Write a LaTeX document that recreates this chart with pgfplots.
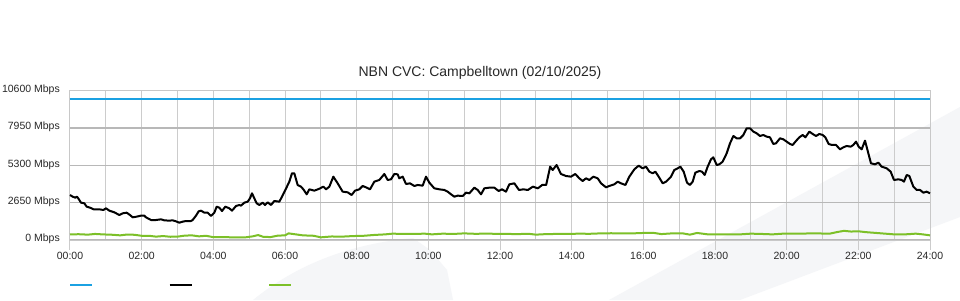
\documentclass[border=0pt]{standalone}
\usepackage{pgfplots}
\pgfplotsset{compat=1.18}
\usepackage{fontspec}
\setmainfont{Liberation Sans}
\definecolor{cblue}{RGB}{27,161,226}
\definecolor{cgreen}{RGB}{124,192,40}
\definecolor{wm}{RGB}{245,246,248}
\definecolor{xgrid}{RGB}{204,204,204}
\definecolor{ygrid}{RGB}{184,184,184}
\definecolor{frame}{RGB}{200,200,200}
\definecolor{txt}{RGB}{40,40,40}
\begin{document}
\begin{tikzpicture}
\useasboundingbox[fill=white] (0,0) rectangle (960pt,300pt);
\fill[wm] (609pt,0pt) -- (960pt,193pt) -- (960pt,83pt) -- (740pt,0pt) -- cycle;
\fill[wm] (253pt,0pt) .. controls (290pt,30pt) and (340pt,55pt) .. (413pt,62pt) -- (430pt,50pt) -- (447pt,30pt) -- (453pt,0pt) -- cycle;
\begin{axis}[
  at={(70pt,60pt)}, anchor=south west,
  scale only axis, width=860pt, height=149.3pt,
  xmin=0, xmax=24, ymin=0, ymax=10600,
  scaled y ticks=false, scaled x ticks=false,
  axis line style={draw=frame, line width=1pt},
  xtick={0,2,...,24},
  xticklabels={00:00,02:00,04:00,06:00,08:00,10:00,12:00,14:00,16:00,18:00,20:00,22:00,24:00},
  minor xtick={1,3,...,23},
  ytick={0,2650,5300,7950,10600},
  yticklabels={0 Mbps,2650 Mbps,5300 Mbps,7950 Mbps,10600 Mbps},
  /pgf/number format/assume math mode=true,
  xmajorgrids, xminorgrids, ymajorgrids,
  x grid style={draw=xgrid, line width=1pt},
  minor x grid style={draw=xgrid, line width=1pt},
  y grid style={draw=ygrid, line width=1.3pt},
  tick align=outside,
  major tick length=10pt, minor tick length=0pt,
  xtick style={draw=xgrid, line width=1pt},
  ytick style={draw=none},
  xtick pos=bottom, ytick pos=left,
  ticklabel style={font=\fontsize{10.5}{12}\selectfont, text=txt},
  xticklabel style={inner sep=0pt, yshift=-1.5pt},
  yticklabel style={inner sep=0pt, anchor=east, yshift=1pt},
  title={NBN CVC: Campbelltown (02/10/2025)},
  title style={font=\fontsize{14}{16}\selectfont, text=txt, at={(axis description cs:0.4767,1.0817)}, anchor=center, yshift=0pt, inner sep=0pt},
  legend style={at={(axis description cs:-0.00116,-0.3014)}, anchor=west, draw=none, fill=none,
    legend columns=3, inner sep=0pt, outer sep=0pt, row sep=0pt, column sep=0pt,
    nodes={inner sep=0pt}, /tikz/every even column/.append style={column sep=74.5pt}},
  legend image code/.code={\draw[#1] (0pt,0pt) -- (22pt,0pt);},
  clip=false,
]
\addplot[cblue, line width=2pt] coordinates {(0,10000) (24,10000)};
\addlegendentry{}
\addplot[black, line width=2pt, line join=round] coordinates {
(0,3195)(0.074,3077)(0.149,3006)(0.195,3077)(0.242,2911)(0.307,2651)(0.4,2604)(0.465,2367)(0.558,2296)(0.66,2178)(0.819,2178)(0.93,2130)(1.005,2249)(1.098,2083)(1.237,1965)(1.377,1775)(1.47,1894)(1.581,1941)(1.674,1775)(1.749,1610)(1.86,1657)(1.981,1728)(2.074,1728)(2.12,1610)(2.26,1420)(2.4,1420)(2.54,1468)(2.633,1397)(2.772,1373)(2.865,1397)(2.958,1326)(3.051,1231)(3.144,1302)(3.237,1349)(3.377,1349)(3.423,1420)(3.516,1728)(3.591,2036)(3.656,2083)(3.749,1941)(3.842,1941)(3.935,1704)(4.028,1941)(4.093,2367)(4.167,2296)(4.242,2059)(4.335,2367)(4.447,2249)(4.521,2083)(4.633,2414)(4.726,2485)(4.772,2438)(4.865,2651)(4.958,2722)(5.023,2959)(5.079,3314)(5.144,2959)(5.209,2604)(5.284,2485)(5.377,2651)(5.442,2485)(5.516,2675)(5.609,2485)(5.702,2769)(5.842,2722)(5.916,3077)(6.009,3551)(6.121,4142)(6.195,4734)(6.26,4734)(6.353,3906)(6.447,3787)(6.512,3598)(6.605,3243)(6.679,3598)(6.819,3503)(6.958,3640)
(7.07,3787)(7.144,3598)(7.237,3787)(7.349,4497)(7.47,4024)(7.609,3432)(7.749,3385)(7.86,3195)(7.953,3503)(8.074,3598)(8.167,3835)(8.26,3740)(8.372,3598)(8.493,4142)(8.633,4261)(8.772,4687)(8.865,4261)(8.958,4308)(9.051,4687)(9.144,4663)(9.19,4379)(9.284,4497)(9.377,3977)(9.488,4024)(9.609,3835)(9.702,3906)(9.842,3858)(9.935,4497)(10.028,4071)(10.167,3669)(10.307,3598)(10.447,3551)(10.54,3432)(10.633,3243)(10.726,3077)(10.819,3148)(10.958,3124)(11.051,3361)(11.144,3314)(11.284,3716)(11.377,3551)(11.47,3243)(11.563,3669)(11.702,3716)(11.842,3716)(11.963,3479)(12.056,3598)(12.167,3432)(12.26,3953)(12.4,4024)(12.53,3551)(12.656,3598)(12.777,3551)(12.916,3787)(13.056,3669)(13.177,3906)(13.288,3906)(13.4,5207)(13.47,4970)(13.58,5325)(13.7,4687)(13.84,4545)(13.98,4497)(14.1,4687)(14.214,4379)(14.307,4190)(14.4,4379)(14.493,4261)(14.605,4497)(14.726,4379)(14.819,4024)(14.958,3740)(15.05,3835)(15.19,3953)(15.284,4142)(15.377,4024)(15.5,3906)(15.609,4497)(15.749,5018)(15.87,5280)
(15.98,5089)(16.074,5207)(16.167,4852)(16.26,4734)(16.335,4852)(16.428,4497)(16.54,4024)(16.633,4142)(16.772,4497)(16.865,4970)(16.958,5089)(17.033,5207)(17.126,4852)(17.219,4071)(17.3,3906)(17.377,4142)(17.451,4781)(17.563,4900)(17.637,4852)(17.712,4616)(17.795,5207)(17.888,5728)(17.953,5870)(18.047,5325)(18.12,5373)(18.214,5562)(18.326,6154)(18.419,6864)(18.512,7385)(18.605,7219)(18.698,7219)(18.791,7456)(18.884,7929)(18.977,7929)(19.07,7693)(19.163,7574)(19.256,7385)(19.349,7456)(19.442,7338)(19.535,7290)(19.628,6817)(19.702,6864)(19.814,7219)(19.907,7148)(20.0,6983)(20.093,6817)(20.167,6746)(20.26,7030)(20.353,7290)(20.447,7456)(20.521,7290)(20.633,7693)(20.726,7527)(20.819,7385)(20.912,7527)(21.005,7456)(21.079,7290)(21.172,6817)(21.265,6746)(21.377,6746)(21.488,6438)(21.581,6580)(21.674,6675)(21.786,6627)(21.86,6746)(21.935,6983)(22.009,6627)(22.093,6438)(22.186,7054)(22.279,6154)(22.353,5444)(22.465,5373)(22.558,5491)(22.651,5207)(22.791,5089)(22.902,4852)(22.995,4261)(23.116,4308)(23.209,4261)(23.274,4142)(23.349,4616)(23.423,4545)(23.535,3787)(23.628,3551)(23.721,3551)(23.814,3361)(23.907,3432)(24.0,3314)
};
\addlegendentry{}
\addplot[cgreen, line width=2pt, line join=round] coordinates {
(0,402)(0.25,410)(0.5,380)(0.7,430)(0.9,400)(1.2,370)(1.4,330)(1.6,390)(1.8,370)(2.0,300)(2.2,300)(2.4,240)(2.6,280)(2.8,230)(3.0,240)(3.2,310)(3.4,330)(3.6,260)(3.8,300)(4.0,200)(4.3,200)(4.6,190)(4.9,190)(5.1,260)(5.25,350)(5.4,220)(5.6,210)(5.8,310)(6.0,330)(6.1,470)(6.3,400)(6.5,330)(6.8,300)(7.0,190)(7.3,250)(7.6,240)(7.9,280)(8.2,300)(8.5,360)(8.8,400)(9.0,450)(9.3,430)(9.6,430)(9.9,450)(10.1,400)(10.4,450)(10.7,430)(11.0,470)(11.3,440)(11.6,450)(11.9,440)(12.2,430)(12.5,420)(12.8,440)(13.0,380)(13.3,420)(13.6,430)(13.9,430)(14.2,450)(14.5,440)(14.8,470)(15.1,480)(15.4,470)(15.7,470)(16.0,500)(16.3,500)(16.5,420)(16.8,470)(17.1,470)(17.3,380)(17.5,500)(17.8,400)(18.1,400)(18.4,400)(18.7,400)(19.0,450)(19.3,430)(19.6,400)(19.9,450)(20.2,460)(20.5,460)(20.8,470)(21.0,460)(21.2,450)(21.4,560)(21.6,650)(21.8,600)(22.0,620)(22.2,560)(22.5,500)(22.8,440)(23.0,400)(23.3,400)(23.6,450)(23.8,400)(24.0,330)
};
\addlegendentry{}
\end{axis}
\end{tikzpicture}
\end{document}
